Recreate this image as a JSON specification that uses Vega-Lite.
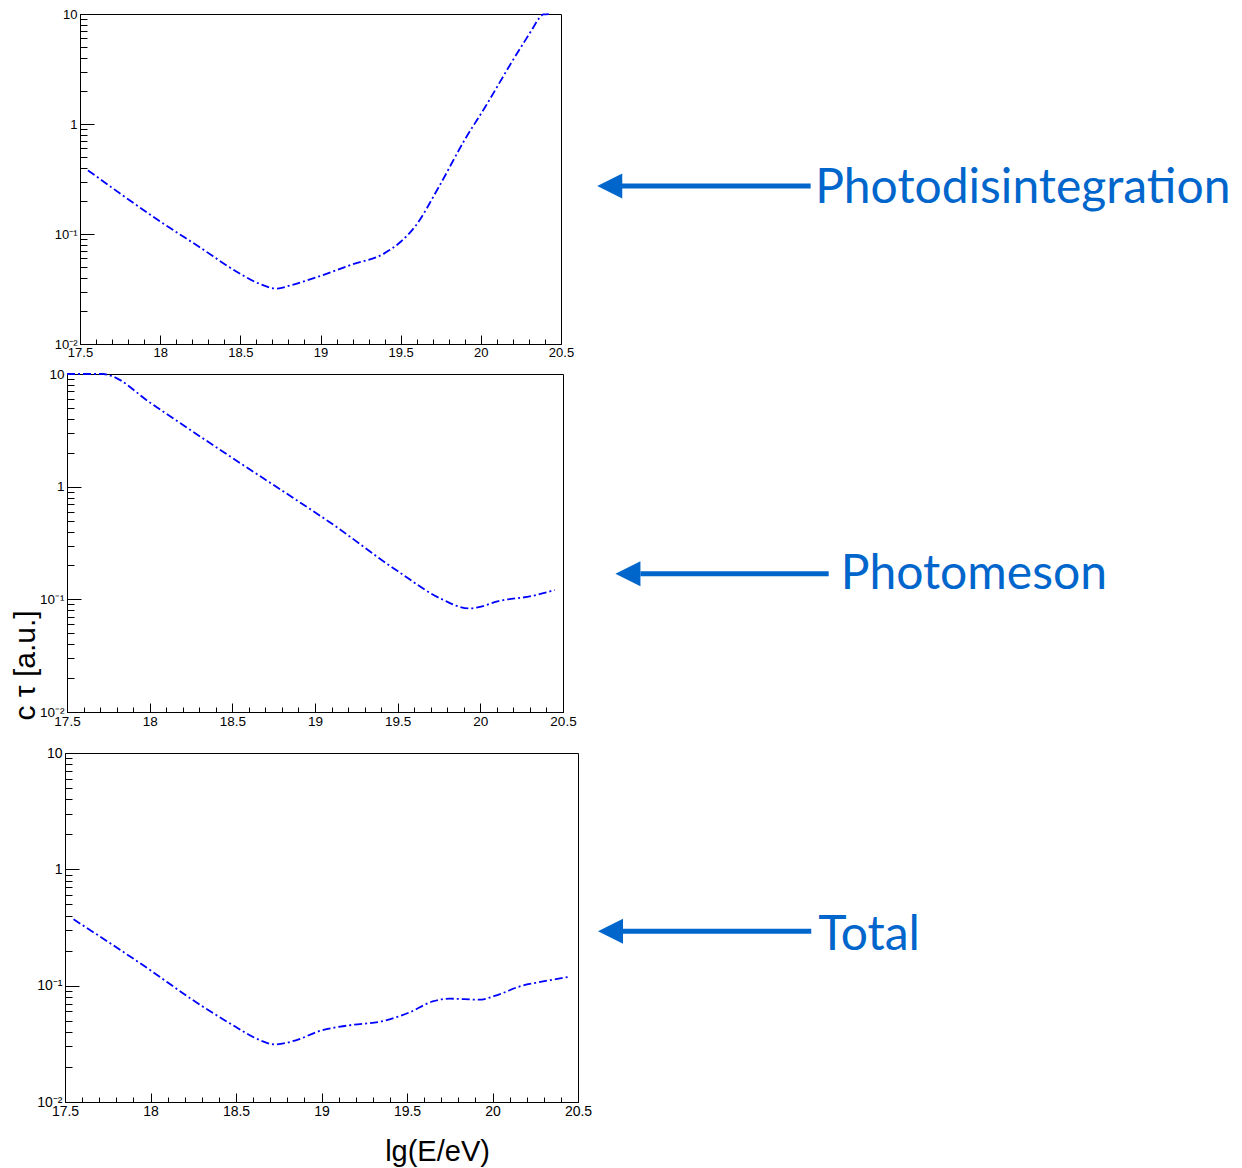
{
  "$schema": "https://vega.github.io/schema/vega-lite/v6.json",
  "background": "white",
  "padding": {"left": 0, "top": 7, "right": 0, "bottom": 0},
  "datasets": {
    "photodis": [
      {"lgE": 17.55, "ctau": 0.379},
      {"lgE": 17.76, "ctau": 0.228},
      {"lgE": 18.0, "ctau": 0.130},
      {"lgE": 18.24, "ctau": 0.0769},
      {"lgE": 18.5, "ctau": 0.0434},
      {"lgE": 18.61, "ctau": 0.0357},
      {"lgE": 18.73, "ctau": 0.0319},
      {"lgE": 18.82, "ctau": 0.0344},
      {"lgE": 19.0, "ctau": 0.0416},
      {"lgE": 19.19, "ctau": 0.0524},
      {"lgE": 19.4, "ctau": 0.067},
      {"lgE": 19.5, "ctau": 0.085},
      {"lgE": 19.59, "ctau": 0.117},
      {"lgE": 19.74, "ctau": 0.271},
      {"lgE": 19.9, "ctau": 0.721},
      {"lgE": 20.03, "ctau": 1.45},
      {"lgE": 20.19, "ctau": 3.6},
      {"lgE": 20.32, "ctau": 7.25},
      {"lgE": 20.36, "ctau": 9.0},
      {"lgE": 20.39, "ctau": 9.9},
      {"lgE": 20.43, "ctau": 10}
    ],
    "photomeson": [
      {"lgE": 17.5, "ctau": 10},
      {"lgE": 17.72, "ctau": 10},
      {"lgE": 17.77, "ctau": 9.6},
      {"lgE": 18.0, "ctau": 5.6},
      {"lgE": 18.5, "ctau": 1.8},
      {"lgE": 18.9, "ctau": 0.74},
      {"lgE": 19.08, "ctau": 0.494},
      {"lgE": 19.5, "ctau": 0.178},
      {"lgE": 19.77, "ctau": 0.0998},
      {"lgE": 19.93, "ctau": 0.083},
      {"lgE": 19.99, "ctau": 0.0853},
      {"lgE": 20.11, "ctau": 0.0964},
      {"lgE": 20.31, "ctau": 0.107},
      {"lgE": 20.45, "ctau": 0.121}
    ],
    "total": [
      {"lgE": 17.55, "ctau": 0.372},
      {"lgE": 18.0, "ctau": 0.1355},
      {"lgE": 18.25, "ctau": 0.0748},
      {"lgE": 18.5, "ctau": 0.0441},
      {"lgE": 18.6, "ctau": 0.0362},
      {"lgE": 18.73, "ctau": 0.0313},
      {"lgE": 18.85, "ctau": 0.0339},
      {"lgE": 18.99, "ctau": 0.0408},
      {"lgE": 19.16, "ctau": 0.0456},
      {"lgE": 19.36, "ctau": 0.0497},
      {"lgE": 19.52, "ctau": 0.0594},
      {"lgE": 19.65, "ctau": 0.0732},
      {"lgE": 19.75, "ctau": 0.0773},
      {"lgE": 19.92, "ctau": 0.0758},
      {"lgE": 20.04, "ctau": 0.0843},
      {"lgE": 20.16, "ctau": 0.0986},
      {"lgE": 20.28, "ctau": 0.1076},
      {"lgE": 20.44, "ctau": 0.1186}
    ]
  },
  "spacing": 6,
  "vconcat": [
    {
      "spacing": 0,
      "hconcat": [
        {"width": 53, "height": 10, "view": {"stroke": null}, "data": {"values": []}, "mark": "point"},
        {
          "width": 481, "height": 330,
          "layer": [
            {
              "data": {"name": "photodis"},
              "mark": {"type": "line", "color": "#0000ff", "strokeWidth": 1.8, "strokeDash": [8, 3, 2, 3], "interpolate": "monotone"},
              "encoding": {
                "x": {"field": "lgE", "type": "quantitative", "scale": {"domain": [17.5, 20.5], "nice": false, "zero": false},
                  "axis": {"orient": "bottom", "title": null, "values": [17.5, 18, 18.5, 19, 19.5, 20, 20.5], "format": "~f", "tickSize": -9, "labelPadding": 11, "labelFontSize": 13}},
                "y": {"field": "ctau", "type": "quantitative", "scale": {"type": "log", "domain": [0.01, 10], "nice": false},
                  "axis": {"orient": "left", "title": null, "values": [0.01, 0.1, 1, 10], "tickSize": -14, "labelPadding": 17, "labelFontSize": 13,
                    "labelExpr": "datum.value >= 9 ? '10' : datum.value >= 0.9 ? '1' : datum.value >= 0.09 ? '10⁻¹' : '10⁻²'"}}
              }
            },
            {
              "data": {"name": "photodis"},
              "mark": {"type": "line", "opacity": 0},
              "encoding": {
                "x": {"field": "lgE", "type": "quantitative",
                  "axis": {"orient": "bottom", "title": null, "labels": false, "domain": false, "tickSize": -5,
                    "values": [17.6, 17.7, 17.8, 17.9, 18.1, 18.2, 18.3, 18.4, 18.6, 18.7, 18.8, 18.9, 19.1, 19.2, 19.3, 19.4, 19.6, 19.7, 19.8, 19.9, 20.1, 20.2, 20.3, 20.4]}},
                "y": {"field": "ctau", "type": "quantitative",
                  "axis": {"orient": "left", "title": null, "labels": false, "domain": false, "tickSize": -7,
                    "values": [0.02, 0.03, 0.04, 0.05, 0.06, 0.07, 0.08, 0.09, 0.2, 0.3, 0.4, 0.5, 0.6, 0.7, 0.8, 0.9, 2, 3, 4, 5, 6, 7, 8, 9]}}
              }
            },
            {
              "data": {"values": [{"label": "Photodisintegration"}]},
              "mark": {"type": "rule", "color": "#0066cc", "strokeWidth": 5, "strokeCap": "butt"},
              "encoding": {"x": {"datum": 20.88, "axis": null}, "x2": {"datum": 22.057}, "y": {"datum": 0.2732, "axis": null}}
            },
            {
              "data": {"values": [{"label": "Photodisintegration"}]},
              "mark": {"type": "point", "shape": "M-1,0L1,-1L1,1Z", "size": 625, "filled": true, "color": "#0066cc", "opacity": 1, "strokeWidth": 0},
              "encoding": {"x": {"datum": 20.804, "axis": null}, "y": {"datum": 0.2732, "axis": null}}
            },
            {
              "data": {"values": [{"label": "Photodisintegration"}]},
              "mark": {"type": "text", "font": "Lato", "fontSize": 48, "color": "#0066cc", "align": "left", "baseline": "alphabetic"},
              "encoding": {"text": {"field": "label"}, "x": {"datum": 22.085, "axis": null}, "y": {"datum": 0.1913, "axis": null}}
            }
          ],
          "resolve": {"axis": {"x": "independent", "y": "independent"}}
        }
      ]
    },
    {
      "spacing": 17,
      "vconcat": [
        {
          "spacing": 0,
          "hconcat": [
            {"width": 9, "height": 10, "view": {"stroke": null}, "data": {"values": []}, "mark": "point"},
            {
              "width": 496, "height": 338,
              "layer": [
                {
                  "data": {"name": "photomeson"},
                  "mark": {"type": "line", "color": "#0000ff", "strokeWidth": 1.8, "strokeDash": [8, 3, 2, 3], "interpolate": "monotone"},
                  "encoding": {
                    "x": {"field": "lgE", "type": "quantitative", "scale": {"domain": [17.5, 20.5], "nice": false, "zero": false},
                      "axis": {"orient": "bottom", "title": null, "values": [17.5, 18, 18.5, 19, 19.5, 20, 20.5], "format": "~f", "tickSize": -9, "labelPadding": 11, "labelFontSize": 13.5}},
                    "y": {"field": "ctau", "type": "quantitative", "scale": {"type": "log", "domain": [0.01, 10], "nice": false},
                      "axis": {"orient": "left", "values": [0.01, 0.1, 1, 10], "tickSize": -14, "labelPadding": 17, "labelFontSize": 13.5,
                        "labelExpr": "datum.value >= 9 ? '10' : datum.value >= 0.9 ? '1' : datum.value >= 0.09 ? '10⁻¹' : '10⁻²'",
                        "title": "c τ  [a.u.]", "titleFontSize": 30, "titleX": -33, "titleY": 291, "titleAlign": "center", "titleBaseline": "alphabetic", "titleAngle": -90}}
                  }
                },
                {
                  "data": {"name": "photomeson"},
                  "mark": {"type": "line", "opacity": 0},
                  "encoding": {
                    "x": {"field": "lgE", "type": "quantitative",
                      "axis": {"orient": "bottom", "title": null, "labels": false, "domain": false, "tickSize": -5,
                        "values": [17.6, 17.7, 17.8, 17.9, 18.1, 18.2, 18.3, 18.4, 18.6, 18.7, 18.8, 18.9, 19.1, 19.2, 19.3, 19.4, 19.6, 19.7, 19.8, 19.9, 20.1, 20.2, 20.3, 20.4]}},
                    "y": {"field": "ctau", "type": "quantitative",
                      "axis": {"orient": "left", "title": null, "labels": false, "domain": false, "tickSize": -7,
                        "values": [0.02, 0.03, 0.04, 0.05, 0.06, 0.07, 0.08, 0.09, 0.2, 0.3, 0.4, 0.5, 0.6, 0.7, 0.8, 0.9, 2, 3, 4, 5, 6, 7, 8, 9]}}
                  }
                },
                {
                  "data": {"values": [{"label": "Photomeson"}]},
                  "mark": {"type": "rule", "color": "#0066cc", "strokeWidth": 5, "strokeCap": "butt"},
                  "encoding": {"x": {"datum": 20.968, "axis": null}, "x2": {"datum": 22.107}, "y": {"datum": 0.1689, "axis": null}}
                },
                {
                  "data": {"values": [{"label": "Photomeson"}]},
                  "mark": {"type": "point", "shape": "M-1,0L1,-1L1,1Z", "size": 625, "filled": true, "color": "#0066cc", "opacity": 1, "strokeWidth": 0},
                  "encoding": {"x": {"datum": 20.8926, "axis": null}, "y": {"datum": 0.1689, "axis": null}}
                },
                {
                  "data": {"values": [{"label": "Photomeson"}]},
                  "mark": {"type": "text", "font": "Lato", "fontSize": 48, "color": "#0066cc", "align": "left", "baseline": "alphabetic"},
                  "encoding": {"text": {"field": "label"}, "x": {"datum": 22.18, "axis": null}, "y": {"datum": 0.1224, "axis": null}}
                }
              ],
              "resolve": {"axis": {"x": "independent", "y": "independent"}}
            }
          ]
        },
        {
          "spacing": 0,
          "hconcat": [
            {"width": 36, "height": 10, "view": {"stroke": null}, "data": {"values": []}, "mark": "point"},
            {
              "width": 513, "height": 349,
              "layer": [
                {
                  "data": {"name": "total"},
                  "mark": {"type": "line", "color": "#0000ff", "strokeWidth": 1.8, "strokeDash": [8, 3, 2, 3], "interpolate": "monotone"},
                  "encoding": {
                    "x": {"field": "lgE", "type": "quantitative", "scale": {"domain": [17.5, 20.5], "nice": false, "zero": false},
                      "axis": {"orient": "bottom", "values": [17.5, 18, 18.5, 19, 19.5, 20, 20.5], "format": "~f", "tickSize": -9, "labelPadding": 11, "labelFontSize": 14,
                        "title": "lg(E/eV)", "titleFontSize": 29, "titleX": 372, "titleY": 35, "titleAlign": "center", "titleBaseline": "top"}},
                    "y": {"field": "ctau", "type": "quantitative", "scale": {"type": "log", "domain": [0.01, 10], "nice": false},
                      "axis": {"orient": "left", "title": null, "values": [0.01, 0.1, 1, 10], "tickSize": -14, "labelPadding": 17, "labelFontSize": 14,
                        "labelExpr": "datum.value >= 9 ? '10' : datum.value >= 0.9 ? '1' : datum.value >= 0.09 ? '10⁻¹' : '10⁻²'"}}
                  }
                },
                {
                  "data": {"name": "total"},
                  "mark": {"type": "line", "opacity": 0},
                  "encoding": {
                    "x": {"field": "lgE", "type": "quantitative",
                      "axis": {"orient": "bottom", "title": null, "labels": false, "domain": false, "tickSize": -5,
                        "values": [17.6, 17.7, 17.8, 17.9, 18.1, 18.2, 18.3, 18.4, 18.6, 18.7, 18.8, 18.9, 19.1, 19.2, 19.3, 19.4, 19.6, 19.7, 19.8, 19.9, 20.1, 20.2, 20.3, 20.4]}},
                    "y": {"field": "ctau", "type": "quantitative",
                      "axis": {"orient": "left", "title": null, "labels": false, "domain": false, "tickSize": -7,
                        "values": [0.02, 0.03, 0.04, 0.05, 0.06, 0.07, 0.08, 0.09, 0.2, 0.3, 0.4, 0.5, 0.6, 0.7, 0.8, 0.9, 2, 3, 4, 5, 6, 7, 8, 9]}}
                  }
                },
                {
                  "data": {"values": [{"label": "Total"}]},
                  "mark": {"type": "rule", "color": "#0066cc", "strokeWidth": 5, "strokeCap": "butt"},
                  "encoding": {"x": {"datum": 20.763, "axis": null}, "x2": {"datum": 21.864}, "y": {"datum": 0.2938, "axis": null}}
                },
                {
                  "data": {"values": [{"label": "Total"}]},
                  "mark": {"type": "point", "shape": "M-1,0L1,-1L1,1Z", "size": 625, "filled": true, "color": "#0066cc", "opacity": 1, "strokeWidth": 0},
                  "encoding": {"x": {"datum": 20.69, "axis": null}, "y": {"datum": 0.2938, "axis": null}}
                },
                {
                  "data": {"values": [{"label": "Total"}]},
                  "mark": {"type": "text", "font": "Lato", "fontSize": 48, "color": "#0066cc", "align": "left", "baseline": "alphabetic"},
                  "encoding": {"text": {"field": "label"}, "x": {"datum": 21.905, "axis": null}, "y": {"datum": 0.2038, "axis": null}}
                }
              ],
              "resolve": {"axis": {"x": "independent", "y": "independent"}}
            }
          ]
        }
      ]
    }
  ],
  "config": {
    "view": {"stroke": "#000000", "strokeWidth": 1},
    "axis": {"grid": false, "domainColor": "#000000", "tickColor": "#000000", "labelColor": "#000000", "labelFont": "Liberation Sans", "titleFont": "Liberation Sans", "titleColor": "#000000", "titleFontWeight": "normal", "labelFlush": false, "labelOverlap": false, "labelBound": false, "domainWidth": 1, "tickWidth": 1}
  }
}
